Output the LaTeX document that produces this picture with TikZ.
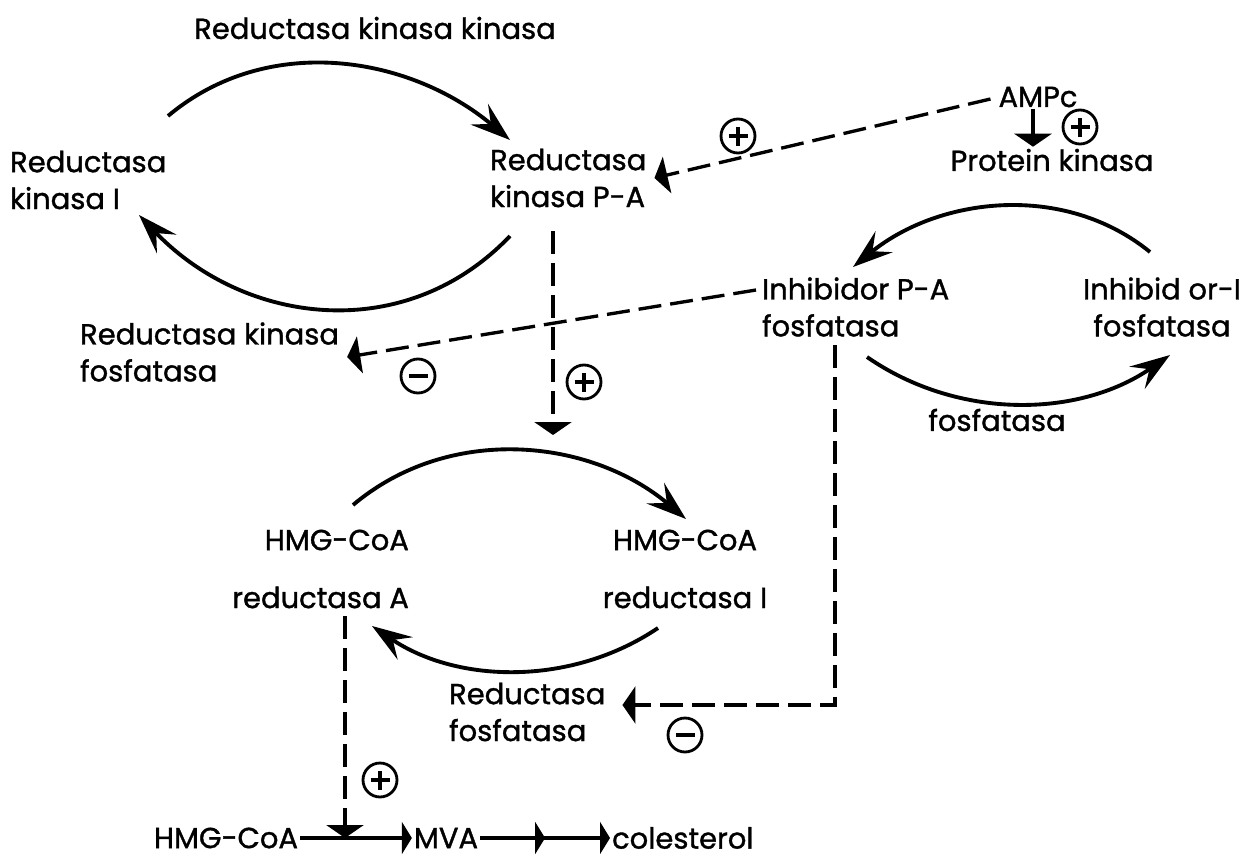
\documentclass[tikz,border=0pt]{standalone}
\usepackage{fontspec}
\setmainfont{Poppins}[FakeBold=1.2]
\usetikzlibrary{arrows.meta, calc, decorations.markings}

\begin{document}
\begin{tikzpicture}[x=0.02cm, y=-0.02cm,
    txt/.style={font=\fontsize{16.5}{21}\selectfont, inner sep=1pt, align=left},
    cyc/.style={line width=2.2pt, -{Stealth[length=8mm, width=5.4mm, inset=3mm]}},
    effect/.style={line width=1.9pt, dash pattern=on 4.6mm off 1.8mm,
                   -{Triangle[length=2.6mm, width=7.4mm]}},
    flow/.style={line width=2pt, -{Triangle[length=2mm, width=6.4mm]}},
    midtip/.style={postaction={decorate}, decoration={markings,
                   mark=at position 0.5 with {\arrow{Triangle[length=2mm, width=6.4mm]}}}},
    sgn/.style={draw, circle, line width=1.6pt, minimum size=6.8mm, inner sep=0pt},
    plussign/.style={sgn, path picture={
        \draw[line width=2.8pt] ([xshift=-1.9mm]path picture bounding box.center) -- ([xshift=1.9mm]path picture bounding box.center)
                                ([yshift=-1.9mm]path picture bounding box.center) -- ([yshift=1.9mm]path picture bounding box.center);}},
    minussign/.style={sgn, path picture={
        \draw[line width=2.8pt] ([xshift=-1.9mm]path picture bounding box.center) -- ([xshift=1.9mm]path picture bounding box.center);}}]

    \useasboundingbox (0,0) rectangle (1250,862);

    % reductase kinase cycle
    \node[txt] (rkk) at (375,28) {Reductasa kinasa kinasa};
    \node[txt, anchor=west] (rki) at (8,180) {Reductasa\\kinasa I};
    \node[txt, anchor=west] (rka) at (488,178) {Reductasa\\kinasa P-A};
    \node[txt, anchor=west] (rkf) at (78,352) {Reductasa kinasa\\fosfatasa};

    % AMPc branch
    \node[txt] (ampc) at (1038,97) {AMPc};
    \node[txt] (pk) at (1052,160) {Protein kinasa};

    % inhibitor cycle
    \node[txt, anchor=west] (ipa) at (760,307) {Inhibidor P-A\\fosfatasa};
    \node[txt, align=center] (ii) at (1162,307) {Inhibid or-I\\fosfatasa};
    \node[txt] (fos) at (997,420) {fosfatasa};

    % HMG-CoA reductase cycle
    \node[txt, align=right, anchor=east] (hra) at (411,569) {HMG-CoA\\[4.2mm]reductasa A};
    \node[txt, align=center] (hri) at (685,569) {HMG-CoA\\[4.2mm]reductasa I};
    \node[txt, anchor=west] (rf) at (447,712) {Reductasa\\fosfatasa};

    % pathway
    \node[txt] (hmg) at (226,838) {HMG-CoA};
    \node[txt] (mva) at (446,838) {MVA};
    \node[txt, anchor=west] (col) at (610,838) {colesterol};

    % interconversions
    \draw[cyc] ($(rki.west)+(160,-64)$) .. controls +(100,-84) and +(-100,-84) .. ($(rka.west)+(22,-38)$);
    \draw[cyc] ($(rka.west)+(22,58)$) .. controls +(-105,110) and +(105,110) .. ($(rki.west)+(131,35)$);
    \draw[cyc] ($(ii.center)+(-12,-55)$) .. controls +(-86,-70) and +(86,-70) .. ($(ipa.west)+(93,-40)$);
    \draw[cyc] ($(ipa.west)+(107,50)$) .. controls +(91,63) and +(-91,63) .. ($(ii.center)+(8,48)$);
    \draw[cyc] ($(hra.east)+(-58,-64)$) .. controls +(96,-81) and +(-96,-81) .. ($(hri.center)+(1,-50)$);
    \draw[cyc] ($(hri.center)+(-27,59)$) .. controls +(-86,58) and +(86,58) .. ($(hra.east)+(-39,57)$);

    % regulation
    \draw[effect] ($(ampc.west)+(-6,2)$) -- ($(rka.east)+(6,0)$);
    \node[plussign] (p1) at (738,136) {};
    \coordinate (ampcout) at ($(ampc.south)+(-5,0)$);
    \draw[effect, solid] (ampcout) -- (ampcout |- pk.north);
    \node[plussign] (p2) at (1080,127) {};

    \draw[effect] ($(ipa.west)+(-4,-17)$) -- ($(rkf.east)+(6,5)$);
    \node[minussign] (m1) at (418,376) {};

    \coordinate (rkaout) at ($(rka.west)+(65,53)$);
    \draw[effect] (rkaout) -- ++(0,204);
    \node[plussign] (p3) at (584,382) {};

    \coordinate (ipaout) at ($(ipa.west)+(75,38)$);
    \draw[effect] (ipaout) |- ($(rf.east)+(15,-7)$);
    \node[minussign] (m2) at (685,735) {};

    \coordinate (hraout) at ($(hra.east)+(-66,47)$);
    \draw[effect] (hraout) -- (hraout |- hmg.east);
    \node[plussign] (p4) at (380,780) {};

    \draw[flow] (hmg.east) -- (mva.west);
    \draw[flow, midtip] (mva.east) -- (col.west);
\end{tikzpicture}
\end{document}
